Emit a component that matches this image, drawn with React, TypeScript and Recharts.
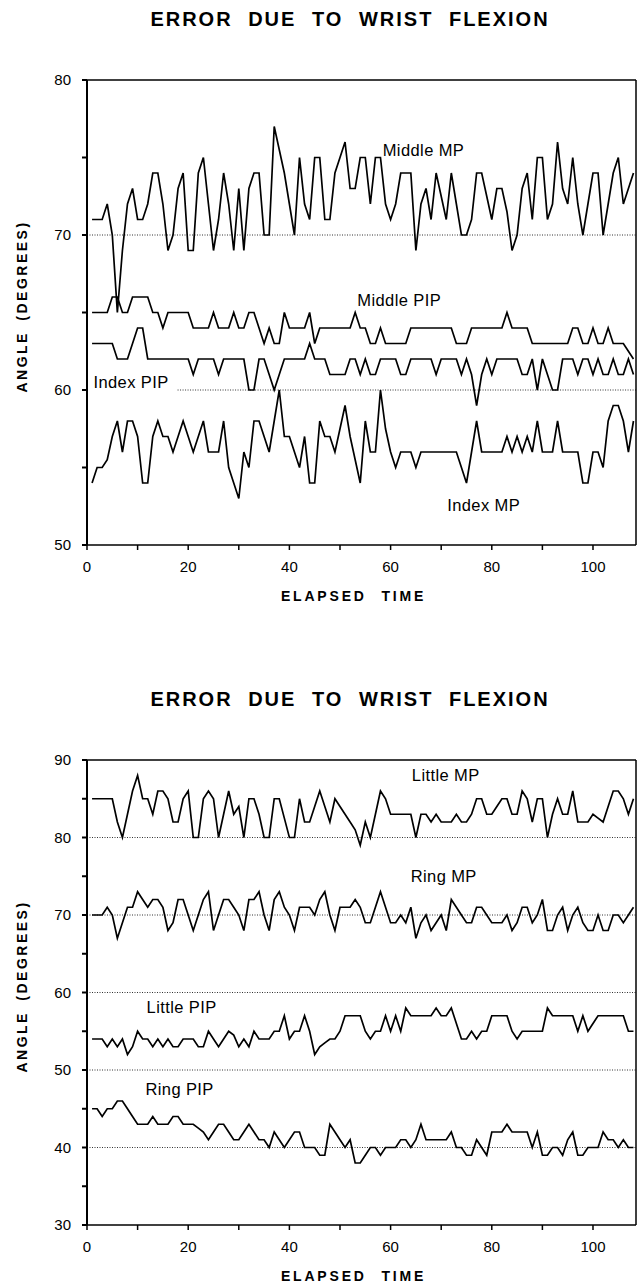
import React from 'react';
import { LineChart, Line, XAxis, YAxis, ReferenceLine, ReferenceDot } from 'recharts';

// ---------- DATA (elapsed time 1..108) ----------
const middleMP = [71,71,71,72,70,65,69,72,73,71,71,72,74,74,72,69,70,73,74,69,69,74,75,72,69,71,74,72,69,73,69,73,74,74,70,70,77,75.5,74,72,70,75,72,71,75,75,71,71,74,75,76,73,73,75,75,72,75,75,72,71,72,74,74,74,69,72,73,71,74,72.5,71,74,72,70,70,71,74,74,72.5,71,73,73,71.5,69,70,73,74,71,75,75,71,72,76,73,72,75,72,70,72,74,74,70,72,74,75,72,73,74];
const middlePIP = [65,65,65,65,66,66,65,65,66,66,66,66,65,65,64,65,65,65,65,65,64,64,64,64,65,64,64,64,65,64,64,65,65,64,63,64,63,63,65,64,64,64,64,65,63,64,64,64,64,64,64,64,65,64,64,63,63,64,63,63,63,63,63,64,64,64,64,64,64,64,64,64,63,63,63,64,64,64,64,64,64,64,65,64,64,64,64,63,63,63,63,63,63,63,63,64,64,63,63,64,63,63,64,63,63,63,62.5,62];
const indexPIP = [63,63,63,63,63,62,62,62,63,64,64,62,62,62,62,62,62,62,62,62,61,62,62,62,62,61,62,62,62,62,62,60,60,62,62,61,60,61,62,62,62,62,62,63,62,62,62,61,61,61,61,62,62,61,62,61,61,62,62,62,62,61,61,62,62,62,62,62,61,62,62,62,62,61,62,61,59,61,62,61,62,62,62,62,62,61,61,62,60,62,61,60,60,62,62,62,61,62,62,61,62,61,61,62,61,61,62,61];
const indexMP = [54,55,55,55.5,57,58,56,58,58,57,54,54,57,58,57,57,56,57,58,57,56,57,58,56,56,56,58,55,54,53,56,55,58,58,57,56,58,60,57,57,56,55,57,54,54,58,57,57,56,57.5,59,57,55.5,54,58,56,56,60,57.5,56,55,56,56,56,55,56,56,56,56,56,56,56,56,55,54,56,58,56,56,56,56,56,57,56,57,56,57,56,58,56,56,56,58,56,56,56,56,54,54,56,56,55,58,59,59,58,56,58];

const littleMP = [85,85,85,85,85,82,80,83,86,88,85,85,83,86,86,85,82,82,85,86,80,80,85,86,85,80,83,86,83,84,80,85,85,83,80,80,85,85,82.5,80,80,85,82,82,84,86,84,82,85,84,83,82,81,79,82,80,83,86,85,83,83,83,83,83,80,83,83,82,83,82,82,82,83,82,82,83,85,85,83,83,84,85,85,83,83,86,85,82,85,85,80,83,85,83,83,86,82,82,82,83,82.5,82,84,86,86,85,83,85];
const ringMP = [70,70,70,71,70,67,69,71,71,73,72,71,72,72,71,68,69,72,72,70,68,70,72,73,68,70,72,72,71,70,68,72,72,73,70,68,72,73,71,70,68,71,71,71,70,72,73,70,68,71,71,71,72,71,69,69,71,73,71,69,69,70,69,71,67,69,70,68,69,70,68,72,71,70,69,69,71,71,70,69,69,69,70,68,69,71,71,69,70,72,68,68,70,71,68,70,71,69,68,68,70,68,68,70,70,69,70,71];
const littlePIP = [54,54,54,53,54,53,54,52,53,55,54,54,53,54,53,54,53,53,54,54,54,53,53,55,54,53,54,55,54.5,53,54,53,55,54,54,54,55,55,57,54,55,55,57,55,52,53,53.5,54,54,55,57,57,57,57,55,54,55,55,57,55,57,55,58,57,57,57,57,57,58,57,57,58,56,54,54,55,54,55,55,57,57,57,57,55,54,55,55,55,55,55,58,57,57,57,57,57,55,57,55,56,57,57,57,57,57,57,55,55];
const ringPIP = [45,45,44,45,45,46,46,45,44,43,43,43,44,43,43,43,44,44,43,43,43,42.5,42,41,42,43,43,42,41,41,42,43,42,41,41,40,42,41,40,41,42,42,40,40,40,39,39,43,42,41,40,41,38,38,39,40,40,39,40,40,40,41,41,40,41,43,41,41,41,41,41,42,40,40,39,39,41,40,39,42,42,42,43,42,42,42,42,40,42,39,39,40,40,39,41,42,39,39,40,40,40,42,41,41,40,41,40,40];

const xTicks = [0, 10, 20, 30, 40, 50, 60, 70, 80, 90, 100];
const topYTicks = [50, 55, 60, 65, 70, 75, 80];
const bottomYTicks = [30, 35, 40, 45, 50, 55, 60, 65, 70, 75, 80, 85, 90];

const TITLE = 'ERROR DUE TO WRIST FLEXION';
const X_TITLE = 'ELAPSED TIME';
const Y_TITLE = 'ANGLE (DEGREES)';

const X_MAX = 108.5;

function buildRows(series: { key: string; values: number[] }[]) {
  const n = series[0].values.length;
  const rows: any[] = [];
  for (let i = 0; i < n; i++) {
    const row: any = { t: i + 1 };
    series.forEach((s) => (row[s.key] = s.values[i]));
    rows.push(row);
  }
  return rows;
}

const topRows = buildRows([
  { key: 'middleMP', values: middleMP },
  { key: 'middlePIP', values: middlePIP },
  { key: 'indexPIP', values: indexPIP },
  { key: 'indexMP', values: indexMP },
]);
const bottomRows = buildRows([
  { key: 'littleMP', values: littleMP },
  { key: 'ringMP', values: ringMP },
  { key: 'littlePIP', values: littlePIP },
  { key: 'ringPIP', values: ringPIP },
]);

const FONT = '"Liberation Sans", Arial, Helvetica, sans-serif';

type Annot = { x: number; y: number; text: string };
type Dotted = { y: number; fromX?: number };

function Panel(props: {
  top: number;
  height: number;
  rows: any[];
  keys: string[];
  yDomain: [number, number];
  yTicks: number[];
  dotted: Dotted[];
  annots: Annot[];
}) {
  const { top, height, rows, keys, yDomain, yTicks, dotted, annots } = props;
  const xLabel = (p: any) => {
    const vb = p.viewBox || { x: 87, y: 545, width: 549, height: 62 };
    return (
      <text
        x={vb.x + vb.width / 2 - 8}
        y={vb.y + 56}
        textAnchor="middle"
        fontFamily={FONT}
        fontWeight="bold"
        fontSize={14}
        letterSpacing={2.8}
        wordSpacing={8}
        fill="#000"
      >
        {X_TITLE}
      </text>
    );
  };
  const yLabel = (p: any) => {
    const vb = p.viewBox || { x: 37, y: 80, width: 50, height: 465 };
    const cy = vb.y + vb.height / 2 - 6;
    const cx = 22;
    return (
      <text
        x={cx}
        y={cy}
        transform={`rotate(-90 ${cx} ${cy})`}
        textAnchor="middle"
        dominantBaseline="central"
        fontFamily={FONT}
        fontWeight="bold"
        fontSize={14}
        letterSpacing={2.5}
        wordSpacing={4}
        fill="#000"
      >
        {Y_TITLE}
      </text>
    );
  };
  return (
    <div style={{ position: 'absolute', left: 0, top, width: 639, height }}>
      <div
        style={{
          position: 'absolute',
          left: 40,
          width: 620,
          top: 8,
          textAlign: 'center',
          fontFamily: FONT,
          fontWeight: 'bold',
          fontSize: 20,
          letterSpacing: 2,
          wordSpacing: 8,
          color: '#000',
          whiteSpace: 'pre',
        }}
      >
        {TITLE}
      </div>
      <LineChart
        width={639}
        height={height}
        data={rows}
        margin={{ top: 80, right: 3, left: 37, bottom: height - 80 - 465 - 62 }}
      >
        <XAxis
          dataKey="t"
          type="number"
          domain={[0, X_MAX]}
          ticks={xTicks}
          tickFormatter={(v: number) => (v % 20 === 0 ? String(v) : '')}
          height={62}
          tickSize={5}
          tickMargin={11}
          stroke="#000"
          strokeWidth={1.5}
          tick={{ fontSize: 15, fill: '#000', fontFamily: FONT }}
          label={xLabel}
          allowDataOverflow
        />
        <YAxis
          type="number"
          domain={yDomain}
          ticks={yTicks}
          tickFormatter={(v: number) => (v % 10 === 0 ? String(v) : '')}
          width={50}
          tickSize={5}
          tickMargin={11}
          stroke="#000"
          strokeWidth={2}
          tick={{ fontSize: 15, fill: '#000', fontFamily: FONT }}
          label={yLabel}
          allowDataOverflow
        />
        {dotted.map((d, i) =>
          d.fromX !== undefined ? (
            <ReferenceLine
              key={'d' + i}
              segment={[
                { x: d.fromX, y: d.y },
                { x: X_MAX, y: d.y },
              ]}
              stroke="#333"
              strokeWidth={1}
              strokeDasharray="1 1.5"
            />
          ) : (
            <ReferenceLine key={'d' + i} y={d.y} stroke="#333" strokeWidth={1} strokeDasharray="1 1.5" />
          )
        )}
        <ReferenceLine y={yDomain[1]} stroke="#000" strokeWidth={1.5} />
        <ReferenceLine x={X_MAX} stroke="#000" strokeWidth={1.5} />
        {keys.map((k) => (
          <Line
            key={k}
            type="linear"
            dataKey={k}
            stroke="#000"
            strokeWidth={1.7}
            dot={false}
            activeDot={false}
            isAnimationActive={false}
          />
        ))}
        {annots.map((a, i) => (
          <ReferenceDot
            key={'a' + i}
            x={a.x}
            y={a.y}
            r={0}
            fill="none"
            stroke="none"
            label={{ value: a.text, position: 'center', fontSize: 16.5, fill: '#000', fontFamily: FONT, letterSpacing: 0.4 }}
          />
        ))}
      </LineChart>
    </div>
  );
}

export default function App() {
  return (
    <div
      style={{
        position: 'absolute',
        left: 0,
        top: 0,
        width: 639,
        height: 1288,
        background: '#fff',
        overflow: 'hidden',
      }}
    >
      <Panel
        top={0}
        height={640}
        rows={topRows}
        keys={['middleMP', 'middlePIP', 'indexPIP', 'indexMP']}
        yDomain={[50, 80]}
        yTicks={topYTicks}
        dotted={[{ y: 70 }, { y: 60, fromX: 17.9 }]}
        annots={[
          { x: 66.5, y: 75.5, text: 'Middle MP' },
          { x: 61.7, y: 65.8, text: 'Middle PIP' },
          { x: 8.7, y: 60.5, text: 'Index PIP' },
          { x: 78.4, y: 52.6, text: 'Index MP' },
        ]}
      />
      <Panel
        top={680}
        height={608}
        rows={bottomRows}
        keys={['littleMP', 'ringMP', 'littlePIP', 'ringPIP']}
        yDomain={[30, 90]}
        yTicks={bottomYTicks}
        dotted={[{ y: 80 }, { y: 70 }, { y: 60 }, { y: 50 }, { y: 40 }]}
        annots={[
          { x: 70.9, y: 88.1, text: 'Little  MP' },
          { x: 70.5, y: 75.0, text: 'Ring MP' },
          { x: 18.7, y: 58.1, text: 'Little  PIP' },
          { x: 18.3, y: 47.5, text: 'Ring PIP' },
        ]}
      />
    </div>
  );
}
